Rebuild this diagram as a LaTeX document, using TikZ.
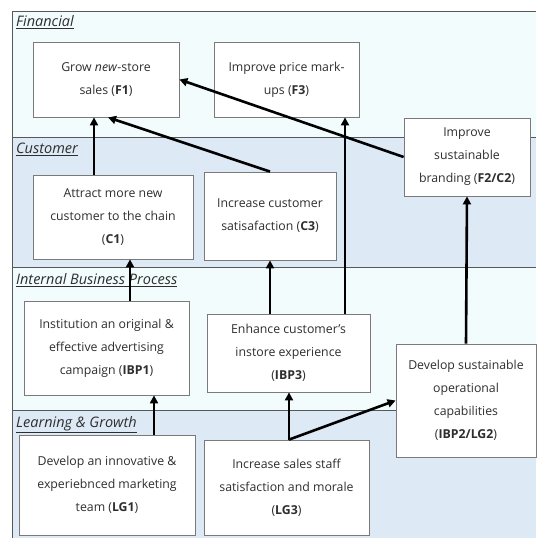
\documentclass[tikz,border=0pt]{standalone}
\usepackage{fontspec}
\setmainfont{Open Sans}
\usetikzlibrary{arrows.meta}
\definecolor{bandA}{HTML}{F2FCFD}
\definecolor{bandB}{HTML}{DDE9F5}
\definecolor{txt}{HTML}{2E2E2E}
\definecolor{boxline}{HTML}{7A7A7A}
\tikzset{
  box/.style={draw=boxline, line width=0.8pt, fill=white, align=center, text=txt,
    font=\fontsize{12.3}{23}\selectfont, inner sep=0pt},
  band/.style={draw=txt!80, line width=0.8pt},
  lab/.style={anchor=north west, text=txt, font=\fontsize{14.5}{16}\selectfont, inner sep=0pt},
  arr/.style={line width=2.6pt, -{Triangle[length=8pt,width=8pt]}}
}
\begin{document}
\begin{tikzpicture}[x=1pt,y=-1pt]
\useasboundingbox (0,0) rectangle (536,538);
% bands
\fill[bandA] (12,11) rectangle (536,137);
\fill[bandB] (12,137) rectangle (536,267);
\fill[bandA] (12,267) rectangle (536,410);
\fill[bandB] (12,410) rectangle (536,538);
\draw[band] (536,11) -- (12,11) -- (12,538);
\draw[band] (12,137) -- (536,137);
\draw[band] (12,267) -- (536,267);
\draw[band] (12,410) -- (536,410);
% labels
\node[lab] (lf) at (16,15) {\underline{\textit{Financial}}};
\node[lab] (lc) at (16,143) {\underline{\textit{Customer}}};
\node[lab] (li) at (16,273) {\underline{\textit{Internal Business Process}}};
\node[lab] (ll) at (16,416) {\underline{\textit{Learning \& Growth}}};
% boxes
\node[box, minimum width=146, minimum height=75] (F1) at (106,79.5) {Grow \textit{new}-store\\sales (\textbf{F1})};
\node[box, minimum width=145, minimum height=75] (F3) at (286.5,79.5) {Improve price mark-\\ups (\textbf{F3})};
\node[box, minimum width=126, minimum height=78] (F2) at (467,157) {Improve\\sustainable\\branding (\textbf{F2/C2})};
\node[box, minimum width=160, minimum height=84] (C1) at (113,217) {Attract more new\\customer to the chain\\(\textbf{C1})};
\node[box, minimum width=132, minimum height=88] (C3) at (270,216) {Increase customer\\satisafaction (\textbf{C3})};
\node[box, minimum width=165, minimum height=94] (I1) at (106.5,348) {Institution an original \&\\effective advertising\\campaign (\textbf{IBP1})};
\node[box, minimum width=163, minimum height=78] (I3) at (288.5,353) {Enhance customer's\\instore experience\\(\textbf{IBP3})};
\node[box, minimum width=140, minimum height=113] (I2) at (466,400.5) {Develop sustainable\\operational\\capabilities\\(\textbf{IBP2/LG2})};
\node[box, minimum width=176, minimum height=100] (L1) at (107,485) {Develop an innovative \&\\experiebnced marketing\\team (\textbf{LG1})};
\node[box, minimum width=165, minimum height=95] (L3) at (286.5,487.5) {Increase sales staff\\satisfaction and morale\\(\textbf{LG3})};
% anchor points
\path ([xshift=-19]C1.north) coordinate (c1t);
\path ([xshift=23.5]I1.north) coordinate (i1t);
\path ([xshift=-18.5]I3.north) coordinate (i3a);
\path ([xshift=56.5]I3.north) coordinate (i3b);
\path ([xshift=47]L1.north) coordinate (l1t);
\path ([xshift=2.5]L3.north) coordinate (l3t);
\path ([xshift=2]F1.south) coordinate (f1s);
% connectors
\draw[arr] (c1t) -- (c1t |- F1.south);
\draw[arr] (C3.north) -- (f1s);
\draw[arr] (F2.west) -- (F1.east);
\draw[arr] (i3b) -- (i3b |- F3.south);
\draw[arr] (i3a) -- (i3a |- C3.south);
\draw[arr] (i1t) -- (i1t |- C1.south);
\draw[arr] (I2.north) -- (F2.south);
\draw[arr] (l1t) -- (l1t |- I1.south);
\draw[arr] (l3t) -- (l3t |- I3.south);
\draw[arr] (l3t) -- (I2.west);
\end{tikzpicture}
\end{document}
